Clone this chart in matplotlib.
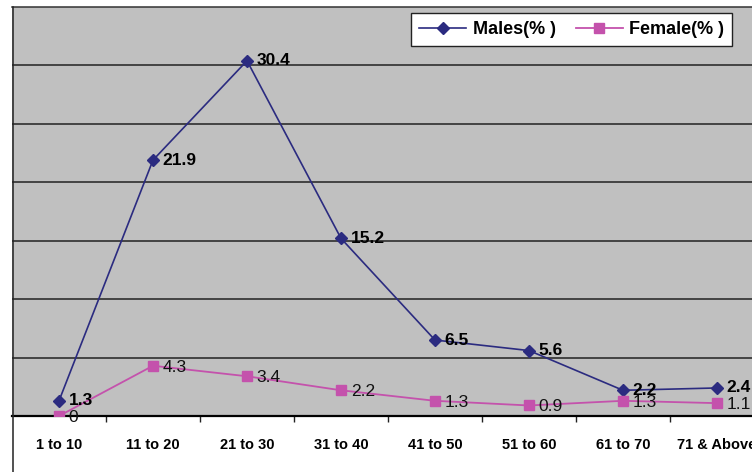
import matplotlib
matplotlib.use('Agg')
import matplotlib.pyplot as plt
from matplotlib.lines import Line2D

# age groups and percentages
grupos = ['1 to 10', '11 to 20', '21 to 30', '31 to 40', '41 to 50', '51 to 60', '61 to 70', '71 & Above']
males = [1.3, 21.9, 30.4, 15.2, 6.5, 5.6, 2.2, 2.4]
female = [0, 4.3, 3.4, 2.2, 1.3, 0.9, 1.3, 1.1]
male_labels = ['1.3', '21.9', '30.4', '15.2', '6.5', '5.6', '2.2', '2.4']
female_labels = ['0', '4.3', '3.4', '2.2', '1.3', '0.9', '1.3', '1.1']

plt.rcParams['font.family'] = ['Liberation Sans', 'DejaVu Sans']

W, H = 752, 472
fig = plt.figure(figsize=(W / 100, H / 100), dpi=100)
# plot area runs a little past the right edge of the image
ax = fig.add_axes([12 / W, (H - 416) / H, 752 / W, (416 - 7) / H])
ax.set_facecolor('#C0C0C0')

x = list(range(len(grupos)))
cor_m = '#2B2B80'
cor_f = '#C452AC'

ax.plot(x, males, color=cor_m, lw=1.2, marker='D', ms=6, mfc=cor_m, mec=cor_m, label='Males(% )', zorder=3)
ax.plot(x, female, color=cor_f, lw=1.3, marker='s', ms=7, mfc=cor_f, mec=cor_f, label='Female(% )', zorder=3)

for xi, v, t in zip(x, males, male_labels):
    ax.annotate(t, (xi, v), xytext=(7, 0), textcoords='offset points', ha='left', va='center',
                fontsize=12.5, fontweight='bold', color='black', zorder=4)
for xi, v, t in zip(x, female, female_labels):
    ax.annotate(t, (xi, v), xytext=(7, -1), textcoords='offset points', ha='left', va='center',
                fontsize=12.5, color='#111111', zorder=4)

ax.set_xlim(-0.5, len(grupos) - 0.5)
ax.set_ylim(0, 35)
ax.set_yticks(range(5, 35, 5))
ax.yaxis.grid(True, color='#222222', lw=1.1)
ax.set_axisbelow(True)
ax.tick_params(axis='y', length=0, labelleft=False)

ax.set_xticks(x)
ax.set_xticklabels(grupos, fontsize=10.5, fontweight='bold')
ax.set_xticks([i + 0.5 for i in x[:-1]], minor=True)
ax.tick_params(axis='x', which='major', length=0, pad=16)
ax.tick_params(axis='x', which='minor', length=4, width=1, direction='out', color='#222222')

for s in ['top', 'right']:
    ax.spines[s].set_color('#333333')
    ax.spines[s].set_linewidth(1.1)
ax.spines['bottom'].set_color('black')
ax.spines['bottom'].set_linewidth(1.6)
ax.spines['left'].set_visible(False)

# left border running down to the bottom of the chart
fig.add_artist(Line2D([12.5 / W, 12.5 / W], [0, (H - 7) / H], transform=fig.transFigure,
                      color='#222222', lw=1.1))

leg = ax.legend(loc='upper right', bbox_to_anchor=(732 / W, 1 - 13 / H), bbox_transform=fig.transFigure,
                ncol=2, frameon=True, fancybox=False, framealpha=1, edgecolor='#222222',
                borderaxespad=0, handlelength=2.6, handletextpad=0.35, columnspacing=1.1,
                prop={'size': 13, 'weight': 'bold'}, borderpad=0.45)
leg.get_frame().set_linewidth(1.0)

fig.savefig('out.png', dpi=100)
